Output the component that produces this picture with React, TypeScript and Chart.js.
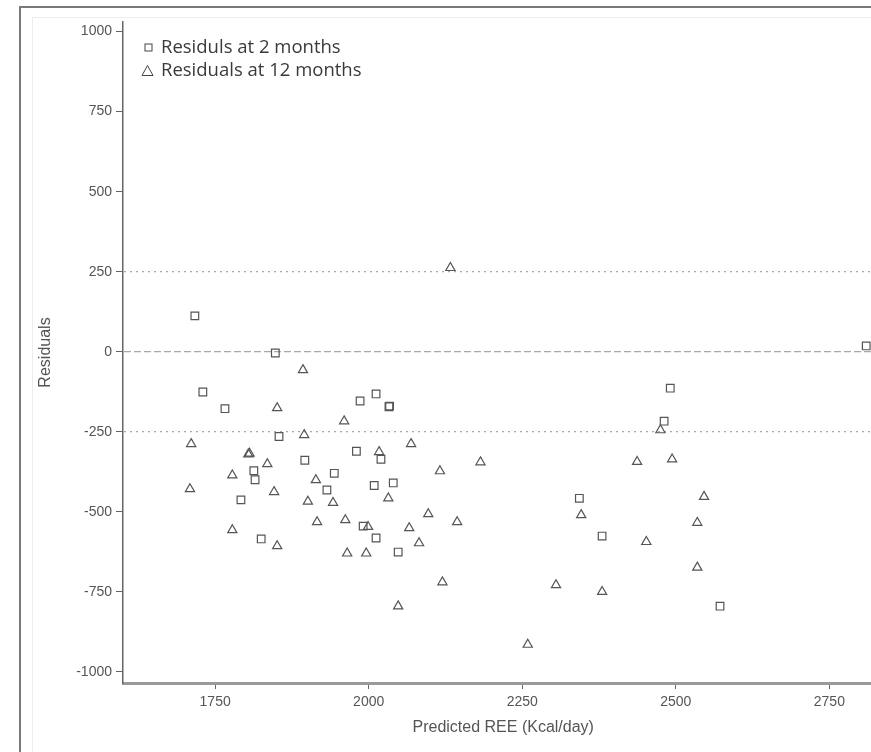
import React, { useEffect, useRef } from "react";
import { Chart, registerables } from "chart.js";

Chart.register(...registerables);

// ---- Data ----
const seriesLabels = ["Residuls at 2 months", "Residuals at 12 months"];

const months2X = [1717, 1848, 1730, 1766, 1854, 1986, 2012, 2033, 2034, 1896, 1944, 1813, 1815, 1792, 1825, 1980, 2020, 2009, 2040, 1932, 1991, 2012, 2048, 2491, 2481, 2343, 2380, 2572, 2810];
const months2Y = [112, -4, -126, -178, -265, -154, -132, -172, -170, -339, -380, -372, -400, -463, -585, -311, -336, -418, -410, -432, -545, -582, -626, -114, -217, -458, -576, -795, 18];

const months12X = [2133, 1893, 1851, 1711, 1895, 1804, 1806, 1835, 1778, 1709, 1846, 1914, 1901, 1916, 1778, 1851, 1942, 1962, 1965, 1996, 1999, 2032, 2066, 2082, 2097, 2144, 2120, 2048, 1960, 2069, 2017, 2116, 2182, 2259, 2437, 2494, 2475, 2346, 2546, 2535, 2452, 2535, 2305, 2380];
const months12Y = [262, -57, -176, -288, -260, -320, -318, -351, -386, -429, -438, -401, -468, -532, -557, -607, -472, -526, -630, -630, -547, -458, -551, -598, -507, -532, -720, -795, -217, -288, -313, -373, -345, -915, -344, -336, -245, -510, -453, -534, -594, -674, -729, -750];

const xTickValues = [1750, 2000, 2250, 2500, 2750];
const yTickValues = [-1000, -750, -500, -250, 0, 250, 500, 750, 1000];
const refLineValues = [250, 0, -250];

const xTitle = "Predicted REE (Kcal/day)";
const yTitle = "Residuals";

const refLinesPlugin = {
  id: "refLines",
  beforeDatasetsDraw(chart: any) {
    const { ctx, chartArea } = chart;
    const ys = chart.scales.y;
    ctx.save();
    ctx.strokeStyle = "#a8a8a8";
    ctx.lineWidth = 1.2;
    refLineValues.forEach((v) => {
      const py = ys.getPixelForValue(v);
      ctx.setLineDash(v === 0 ? [7, 3] : [2, 4]);
      ctx.beginPath();
      ctx.moveTo(chartArea.left + 1, py);
      ctx.lineTo(chartArea.right + 10, py);
      ctx.stroke();
    });
    ctx.restore();
  },
};

const legendPlugin = {
  id: "customLegend",
  afterDraw(chart: any) {
    const { ctx, chartArea } = chart;
    const x0 = chartArea.left;
    const y0 = chartArea.top;
    ctx.save();
    ctx.strokeStyle = "#444";
    ctx.fillStyle = "#3a3a3a";
    ctx.lineWidth = 1;
    // square symbol
    const sx = x0 + 25.5, sy = y0 + 25.5;
    ctx.strokeRect(sx - 3.5, sy - 3.5, 7, 7);
    // triangle symbol
    const tx = x0 + 24.5, ty = y0 + 49;
    ctx.beginPath();
    ctx.moveTo(tx, ty - 5.5);
    ctx.lineTo(tx + 5.5, ty + 4.5);
    ctx.lineTo(tx - 5.5, ty + 4.5);
    ctx.closePath();
    ctx.stroke();
    ctx.font = "18.5px 'Open Sans', sans-serif";
    ctx.textBaseline = "middle";
    ctx.textAlign = "left";
    ctx.fillText(seriesLabels[0], x0 + 38, sy);
    ctx.fillText(seriesLabels[1], x0 + 38, ty);
    ctx.restore();
  },
};

export default function App() {
  const canvasRef = useRef<HTMLCanvasElement | null>(null);

  useEffect(() => {
    if (!canvasRef.current) return;
    const tickFont = { family: "'Liberation Sans', Arial, sans-serif", size: 14 };
    const titleFont = { family: "'Liberation Sans', Arial, sans-serif", size: 16 };
    const chart = new Chart(canvasRef.current, {
      type: "scatter",
      data: {
        datasets: [
          {
            label: seriesLabels[0],
            data: months2X.map((x, i) => ({ x, y: months2Y[i] })),
            pointStyle: "rect",
            pointRadius: 5.4,
            borderColor: "#555",
            backgroundColor: "rgba(255,255,255,0)",
            borderWidth: 1.2,
          },
          {
            label: seriesLabels[1],
            data: months12X.map((x, i) => ({ x, y: months12Y[i] })),
            pointStyle: "triangle",
            pointRadius: 5.3,
            borderColor: "#555",
            backgroundColor: "rgba(255,255,255,0)",
            borderWidth: 1.2,
          },
        ],
      },
      options: {
        animation: false,
        responsive: false,
        maintainAspectRatio: false,
        layout: { padding: { top: 22, left: 0, right: 0, bottom: 0 } },
        plugins: {
          legend: { display: false },
          tooltip: { enabled: false },
        },
        scales: {
          x: {
            type: "linear",
            min: 1600,
            max: 2838,
            afterFit: (s: any) => {
              s.height = 69;
              s.paddingLeft = 0;
              s.paddingRight = 0;
            },
            afterBuildTicks: (s: any) => {
              s.ticks = xTickValues.map((v) => ({ value: v }));
            },
            grid: { drawOnChartArea: false, drawTicks: true, tickLength: 6, color: "#666", tickWidth: 1 },
            border: { color: "#9a9a9a", width: 3 },
            ticks: {
              color: "#555",
              font: tickFont,
              padding: 5,
              maxRotation: 0,
              autoSkip: false,
              callback: (v: any) => String(v),
            },
            title: { display: true, text: xTitle, color: "#555", font: titleFont, padding: { top: 0, bottom: 15 } },
          },
          y: {
            type: "linear",
            min: -1035,
            max: 1030,
            afterFit: (s: any) => {
              s.width = 123;
              s.paddingTop = 0;
              s.paddingBottom = 0;
            },
            afterBuildTicks: (s: any) => {
              s.ticks = yTickValues.map((v) => ({ value: v }));
            },
            grid: { drawOnChartArea: false, drawTicks: true, tickLength: 7, color: "#666", tickWidth: 1 },
            border: { color: "#666", width: 1.5 },
            ticks: { color: "#555", font: tickFont, padding: 4, autoSkip: false, callback: (v: any) => String(v) },
            title: { display: true, text: yTitle, color: "#555", font: titleFont, padding: { top: 36, bottom: 0 } },
          },
        },
      },
      plugins: [refLinesPlugin, legendPlugin],
    } as any);
    return () => chart.destroy();
  }, []);

  return (
    <div
      style={{
        position: "fixed",
        left: 0,
        top: 0,
        width: 871,
        height: 752,
        overflow: "hidden",
        background: "#fff",
      }}
    >
      <canvas ref={canvasRef} width={890} height={752} style={{ position: "absolute", left: 0, top: 0, width: 890, height: 752 }} />
      <div
        style={{
          position: "absolute",
          left: 32,
          top: 17,
          width: 900,
          height: 800,
          borderLeft: "1px solid #ececec",
          borderTop: "1px solid #ececec",
          pointerEvents: "none",
        }}
      />
      <div
        style={{
          position: "absolute",
          left: 19,
          top: 6,
          width: 900,
          height: 800,
          borderLeft: "2px solid #7a7a7a",
          borderTop: "2px solid #7a7a7a",
          pointerEvents: "none",
        }}
      />
    </div>
  );
}
